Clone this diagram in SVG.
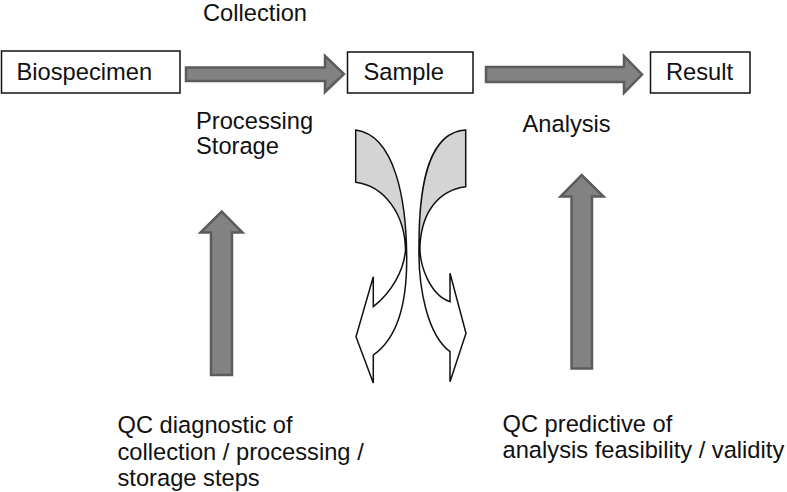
<svg xmlns="http://www.w3.org/2000/svg" width="787" height="492" viewBox="0 0 787 492">
<style>
text{font-family:"Liberation Sans",Arial,sans-serif;font-size:23.7px;fill:#111}
.box{fill:#fff;stroke:#111;stroke-width:1.5}
.fat{fill:#828282;stroke:#5c5c5c;stroke-width:2.5;stroke-linejoin:miter}
.cg{fill:#d4d4d4;stroke:none}
.co{fill:none;stroke:#111;stroke-width:1.5;stroke-linejoin:miter}
</style>
<rect width="787" height="492" fill="#fff"/>
<g id="biospecimen"><rect class="box" x="1.5" y="51" width="178.5" height="42"/><text x="16.5" y="80">Biospecimen</text></g>
<g id="sample"><rect class="box" x="347.5" y="52" width="125.5" height="41"/><text x="363.5" y="80">Sample</text></g>
<g id="result"><rect class="box" x="650.5" y="52" width="99.5" height="41"/><text x="666" y="80">Result</text></g>
<g id="connectors">
<polygon class="fat" points="186,67.5 325,67.5 325,56 344,74 325,92 325,81 186,81"/>
<polygon class="fat" points="486,67 624,67 624,56 642,74.5 624,93 624,82 486,82"/>
<polygon class="fat" points="211,375 211,232.5 200.5,232.5 221.7,211.5 242.5,232.5 232,232.5 232,375"/>
<polygon class="fat" points="571.5,368.5 571.5,196.5 560.5,196.5 581.7,175 603.5,196.5 592,196.5 592,368.5"/>
<g id="curved-left">
<path class="cg" d="M355.7,130 C395,135 406.7,200 406.7,260 L405.5,250 C405,215 385,186 355.7,182.3 Z"/>
<path class="co" d="M355.7,182.3 L355.7,130 C395,135 406.7,200 406.7,260 C406.7,310 395,340 373.3,355 L373.3,383 L356,336.7 L373.3,276.7 L373.3,306.7 C392,292 404,270 405.5,250 C405,215 385,186 355.7,182.3 Z"/>
</g>
<g id="curved-right">
<path class="cg" d="M465.7,130 C430,132 419,180 419,245 L420,245 C422,210 440,190 465.7,186.7 Z"/>
<path class="co" d="M465.7,186.7 L465.7,130 C430,132 419,180 419,245 C418,290 428,335 450,351.7 L450,381.7 L466,333.3 L450,273.3 L450,301.7 C430,295 419,265 420,245 C422,210 440,190 465.7,186.7 Z"/>
</g>
</g>
<g id="labels">
<text x="203" y="20.5">Collection</text>
<text x="196" y="128.5">Processing</text>
<text x="196" y="153.5">Storage</text>
<text x="522.5" y="131.5">Analysis</text>
<text x="117.5" y="432.5">QC diagnostic of</text>
<text x="117.5" y="459.5">collection / processing /</text>
<text x="117.5" y="486">storage steps</text>
<text x="502.5" y="431.5">QC predictive of</text>
<text x="502.5" y="458">analysis feasibility / validity</text>
</g>
</svg>
